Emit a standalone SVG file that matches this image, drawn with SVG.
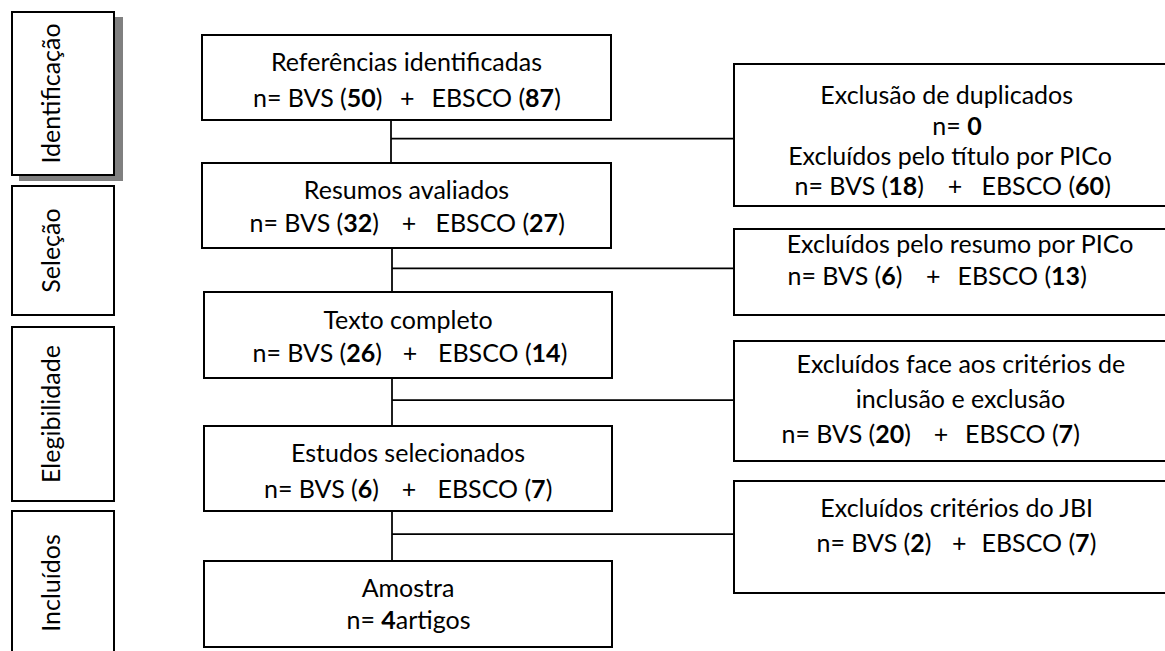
<svg xmlns="http://www.w3.org/2000/svg" width="1165" height="651" viewBox="0 0 1165 651">
<style>
.box{fill:#fff;stroke:#000;stroke-width:2}
.t{font-family:Lato,"Liberation Sans",sans-serif;font-size:25px;fill:#000}
.c{text-anchor:middle}
.e{text-anchor:end}
.s{text-anchor:start}
.b{font-weight:bold}
.con{stroke:#000;stroke-width:1.75;fill:none}
</style>
<defs>
<clipPath id="r1clip"><rect x="734" y="64" width="431" height="134"/></clipPath>
</defs>
<rect width="1165" height="651" fill="#fff"/>

<g id="label-identificacao">
<rect x="19" y="17" width="104" height="164" fill="#808080"/>
<rect class="box" x="12" y="12" width="102" height="163"/>
<text class="t c" transform="translate(60,93.5) rotate(-90)">Identificação</text>
</g>
<g id="label-selecao">
<rect class="box" x="12" y="186" width="102" height="129"/>
<text class="t c" transform="translate(60,250.5) rotate(-90)">Seleção</text>
</g>
<g id="label-elegibilidade">
<rect class="box" x="12" y="327" width="102" height="174"/>
<text class="t c" transform="translate(60,414) rotate(-90)">Elegibilidade</text>
</g>
<g id="label-incluidos">
<rect class="box" x="12" y="511" width="102" height="150"/>
<text class="t c" transform="translate(60,583) rotate(-90)">Incluídos</text>
</g>

<g id="connectors">
<path class="con" d="M391 120V163M392 248V292M392 378V426M392 511V561"/>
<path class="con" d="M391 138.7H734M392 268.3H734M392 400H734M392 534H734"/>
</g>

<g id="referencias">
<rect class="box" x="202" y="35" width="409" height="85"/>
<text class="t c" x="406.5" y="71">Referências identificadas</text>
<text class="t" y="107"><tspan class="e" x="382.5">n= BVS (<tspan class="b">50</tspan>)</tspan><tspan class="c" x="407.3">+</tspan><tspan class="s" x="431.5">EBSCO (<tspan class="b">87</tspan>)</tspan></text>
</g>
<g id="resumos">
<rect class="box" x="202" y="163" width="409" height="85"/>
<text class="t c" x="406.5" y="199">Resumos avaliados</text>
<text class="t" y="232"><tspan class="e" x="379">n= BVS (<tspan class="b">32</tspan>)</tspan><tspan class="c" x="409">+</tspan><tspan class="s" x="435.5">EBSCO (<tspan class="b">27</tspan>)</tspan></text>
</g>
<g id="texto">
<rect class="box" x="204" y="292" width="408" height="86"/>
<text class="t c" x="408" y="329">Texto completo</text>
<text class="t" y="362"><tspan class="e" x="382">n= BVS (<tspan class="b">26</tspan>)</tspan><tspan class="c" x="410">+</tspan><tspan class="s" x="438">EBSCO (<tspan class="b">14</tspan>)</tspan></text>
</g>
<g id="estudos">
<rect class="box" x="204" y="426" width="408" height="85"/>
<text class="t c" x="408" y="462">Estudos selecionados</text>
<text class="t" y="498"><tspan class="e" x="379">n= BVS (<tspan class="b">6</tspan>)</tspan><tspan class="c" x="409">+</tspan><tspan class="s" x="437.5">EBSCO (<tspan class="b">7</tspan>)</tspan></text>
</g>
<g id="amostra">
<rect class="box" x="204" y="561" width="408" height="86"/>
<text class="t c" x="408" y="597">Amostra</text>
<text class="t c" x="408.5" y="629">n= <tspan class="b">4</tspan>artigos</text>
</g>

<g id="duplicados">
<rect class="box" x="734" y="64" width="440" height="142"/>
<g clip-path="url(#r1clip)">
<text class="t c" x="946.7" y="104">Exclusão de duplicados</text>
<text class="t c" x="957" y="134.5">n= <tspan class="b">0</tspan></text>
<text class="t c" x="950" y="164.5">Excluídos pelo título por PICo</text>
<text class="t" y="195"><tspan class="e" x="924">n= BVS (<tspan class="b">18</tspan>)</tspan><tspan class="c" x="955">+</tspan><tspan class="s" x="981.5">EBSCO (<tspan class="b">60</tspan>)</tspan></text>
</g>
</g>
<g id="excl-resumo">
<rect class="box" x="734" y="229" width="440" height="86"/>
<text class="t c" x="960" y="253">Excluídos pelo resumo por PICo</text>
<text class="t" y="285"><tspan class="e" x="902.5">n= BVS (<tspan class="b">6</tspan>)</tspan><tspan class="c" x="933.3">+</tspan><tspan class="s" x="957.5">EBSCO (<tspan class="b">13</tspan>)</tspan></text>
</g>
<g id="excl-criterios">
<rect class="box" x="734" y="341" width="440" height="120"/>
<text class="t c" x="960.8" y="373">Excluídos face aos critérios de</text>
<text class="t c" x="960.5" y="408">inclusão e exclusão</text>
<text class="t" y="443"><tspan class="e" x="911">n= BVS (<tspan class="b">20</tspan>)</tspan><tspan class="c" x="941">+</tspan><tspan class="s" x="965">EBSCO (<tspan class="b">7</tspan>)</tspan></text>
</g>
<g id="excl-jbi">
<rect class="box" x="734" y="481" width="440" height="112"/>
<text class="t c" x="956.7" y="517">Excluídos critérios do JBI</text>
<text class="t" y="551.5"><tspan class="e" x="931.5">n= BVS (<tspan class="b">2</tspan>)</tspan><tspan class="c" x="959.3">+</tspan><tspan class="s" x="981.5">EBSCO (<tspan class="b">7</tspan>)</tspan></text>
</g>
</svg>
